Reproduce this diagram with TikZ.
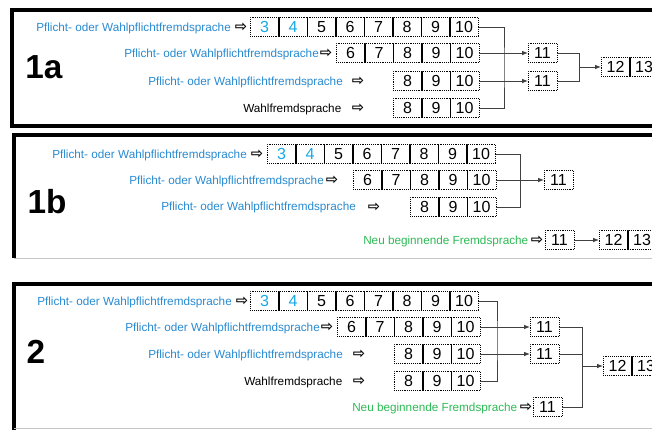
\documentclass[tikz,border=0pt]{standalone}
\usepackage{fontspec}
\setmainfont{Liberation Sans}
\newfontfamily\arrowfont{DejaVu Sans}
\usepackage{xcolor}
\usetikzlibrary{arrows.meta}
\definecolor{lblblue}{RGB}{40,138,208}
\definecolor{numblue}{RGB}{22,168,230}
\definecolor{lblgreen}{RGB}{44,186,84}
\tikzset{
  cell/.style={draw=black, densely dotted, minimum width=21.4pt, minimum height=14.6pt, inner sep=0pt, anchor=west, font=\fontsize{12}{12}\selectfont},
  divider/.style={draw=black, line width=0.5pt},
  lbl/.style={inner sep=0pt, anchor=west, font=\fontsize{8.8}{10}\selectfont},
  hollow/.style={inner sep=0pt, font=\arrowfont\fontsize{11}{11}\selectfont\bfseries},
  big/.style={inner sep=0pt, font=\fontsize{25}{25}\selectfont\bfseries},
  frame/.style={line width=3pt},
  link/.style={draw=black!75, line width=0.75pt},
  flow/.style={link, -{Latex[length=4.5pt,width=3.5pt]}}
}
% a row of numbered cells: name prefix, first, last, left x, y
\newcommand{\cellrow}[5]{%
  \foreach \n [count=\k from 0] in {#2,...,#3} {
    \node[cell] (#1\n) at ({#4+28.5*\k},#5) {\ifnum\n<5 \color{numblue}\fi\n};
    \ifnum\k>0 \draw[divider] (#1\n.north west) -- (#1\n.south west);\fi
  }%
}

\begin{document}
\begin{tikzpicture}[x=0.75pt, y=-0.75pt]
  \useasboundingbox (0,0) rectangle (652,429);
  \clip (0,0) rectangle (652,429);

  % panel 1a
  \draw[frame] (700,10) -- (12,10) -- (12,126) -- (700,126);
  \node[big] (t1a) at (44,67) {1a};
  \node[lbl, text=lblblue] (a1t) at (36,28) {Pflicht- oder Wahlpflichtfremdsprache};
  \node[lbl, text=lblblue] (a2t) at (124,54) {Pflicht- oder Wahlpflichtfremdsprache};
  \node[lbl, text=lblblue] (a3t) at (148,82) {Pflicht- oder Wahlpflichtfremdsprache};
  \node[lbl] (a4t) at (243,109) {Wahlfremdsprache};
  \node[hollow] (a1h) at (241,27) {⇨};
  \node[hollow] (a2h) at (326,53) {⇨};
  \node[hollow] (a3h) at (358,81) {⇨};
  \node[hollow] (a4h) at (358,108) {⇨};
  \cellrow{a1c}{3}{10}{250}{27}
  \cellrow{a2c}{6}{10}{336}{53}
  \cellrow{a3c}{8}{10}{393}{81}
  \cellrow{a4c}{8}{10}{393}{108}
  \node[cell] (a11t) at (528,53) {11};
  \node[cell] (a11b) at (528,81) {11};
  \cellrow{a}{12}{13}{601}{67}
  \coordinate (abus) at (504,67);
  \coordinate (ajoin) at (579,67);
  \draw[link] (a1c10.east) -| (abus) |- (a4c10.east);
  \draw[flow] (a2c10.east) -- (a11t.west);
  \draw[flow] (a3c10.east) -- (a11b.west);
  \draw[link] (a11t.east) -| (ajoin) |- (a11b.east);
  \draw[flow] (ajoin) -- (a12.west);

  % panel 1b
  \draw[frame] (700,135) -- (14,135) -- (14,258);
  \draw[gray!45, line width=0.75pt] (14,258) -- (700,258);
  \node[big] (t1b) at (47,202) {1b};
  \node[lbl, text=lblblue] (b1t) at (52,155) {Pflicht- oder Wahlpflichtfremdsprache};
  \node[lbl, text=lblblue] (b2t) at (129,181) {Pflicht- oder Wahlpflichtfremdsprache};
  \node[lbl, text=lblblue] (b3t) at (161,207) {Pflicht- oder Wahlpflichtfremdsprache};
  \node[lbl, text=lblgreen] (bnt) at (363,241) {Neu beginnende Fremdsprache};
  \node[hollow] (b1h) at (257,154) {⇨};
  \node[hollow] (b2h) at (332,180) {⇨};
  \node[hollow] (b3h) at (374,207) {⇨};
  \node[hollow] (bnh) at (537,240) {⇨};
  \cellrow{b1c}{3}{10}{267}{154}
  \cellrow{b2c}{6}{10}{353}{180}
  \cellrow{b3c}{8}{10}{410}{207}
  \node[cell] (b11) at (544,180) {11};
  \node[cell] (bn11) at (545,240) {11};
  \cellrow{b}{12}{13}{599}{240}
  \coordinate (bbus) at (520,180);
  \draw[link] (b1c10.east) -| (bbus) |- (b3c10.east);
  \draw[flow] (b2c10.east) -- (b11.west);
  \draw[flow] (bn11.east) -- (b12.west);

  % panel 2
  \draw[frame] (700,284) -- (14,284) -- (14,440);
  \draw[gray!45, line width=0.75pt] (14,428) -- (700,428);
  \node[big] (t2) at (36,352) {2};
  \node[lbl, text=lblblue] (c1t) at (37,302) {Pflicht- oder Wahlpflichtfremdsprache};
  \node[lbl, text=lblblue] (c2t) at (125,328) {Pflicht- oder Wahlpflichtfremdsprache};
  \node[lbl, text=lblblue] (c3t) at (148,355) {Pflicht- oder Wahlpflichtfremdsprache};
  \node[lbl] (c4t) at (244,382) {Wahlfremdsprache};
  \node[lbl, text=lblgreen] (cnt) at (352,408) {Neu beginnende Fremdsprache};
  \node[hollow] (c1h) at (242,301) {⇨};
  \node[hollow] (c2h) at (327,327) {⇨};
  \node[hollow] (c3h) at (359,354) {⇨};
  \node[hollow] (c4h) at (359,381) {⇨};
  \node[hollow] (cnh) at (526,407) {⇨};
  \cellrow{c1c}{3}{10}{250}{301}
  \cellrow{c2c}{6}{10}{337}{327}
  \cellrow{c3c}{8}{10}{394}{354}
  \cellrow{c4c}{8}{10}{394}{381}
  \node[cell] (c11t) at (530,327) {11};
  \node[cell] (c11b) at (530,354) {11};
  \node[cell] (c11n) at (533,407) {11};
  \cellrow{c}{12}{13}{603}{366}
  \coordinate (cbus) at (497,340);
  \coordinate (cjoin) at (582,366);
  \draw[link] (c1c10.east) -| (cbus) |- (c4c10.east);
  \draw[flow] (c2c10.east) -- (c11t.west);
  \draw[flow] (c3c10.east) -- (c11b.west);
  \draw[link] (c11t.east) -| (cjoin) |- (c11n.east);
  \draw[link] (c11b.east) -| (cjoin);
  \draw[flow] (cjoin) -- (c12.west);
\end{tikzpicture}
\end{document}
